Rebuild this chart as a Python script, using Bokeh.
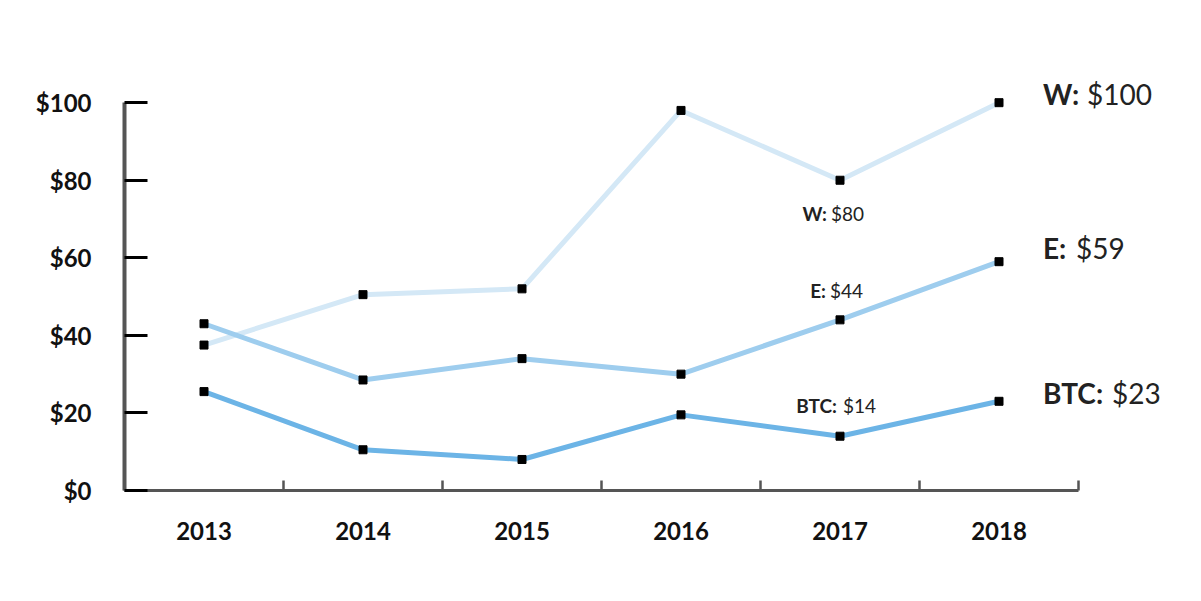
from bokeh.plotting import figure
from bokeh.models import Range1d, LinearAxis, FixedTicker, Label, PrintfTickFormatter
from bokeh.embed import file_html
from bokeh.resources import INLINE

years = ["2013", "2014", "2015", "2016", "2017", "2018"]
w_vals = [37.5, 50.5, 52, 98, 80, 100]
e_vals = [43, 28.5, 34, 30, 44, 59]
btc_vals = [25.5, 10.5, 8, 19.5, 14, 23]
series_names = ["W", "E", "BTC"]
y_ticks = [0, 20, 40, 60, 80, 100]

colors = ["#d4e8f6", "#9ecdee", "#6cb4e6"]
series = [w_vals, e_vals, btc_vals]

# category slot centres (each year occupies one unit slot)
xs = [i + 0.5 for i in range(len(years))]

p = figure(width=1185, height=585, x_range=Range1d(0, 6.61), y_range=Range1d(0, 115),
           output_backend="svg", toolbar_location=None, x_axis_location=None,
           min_border_left=124, min_border_right=10, min_border_top=44, min_border_bottom=95)
p.outline_line_color = None
p.grid.visible = False

xa = LinearAxis(ticker=FixedTicker(ticks=xs, minor_ticks=list(range(len(years) + 1))),
                major_label_overrides={x: y for x, y in zip(xs, years)})
xa.bounds = (0, len(years))
xa.axis_line_color = "#555555"
xa.axis_line_width = 3
xa.major_tick_in = 0
xa.major_tick_out = 0
xa.minor_tick_in = 10
xa.minor_tick_out = 0
xa.minor_tick_line_color = "#555555"
xa.minor_tick_line_width = 2.5
xa.major_label_text_font = "Lato"
xa.major_label_text_font_size = "24px"
xa.major_label_text_font_style = "bold"
xa.major_label_text_color = "#111111"
xa.major_label_standoff = 31
p.add_layout(xa, "below")

ya = p.yaxis[0]
ya.ticker = FixedTicker(ticks=y_ticks)
ya.bounds = (0, 100)
ya.formatter = PrintfTickFormatter(format="$%d")
ya.axis_line_color = "#555555"
ya.axis_line_width = 4
ya.major_tick_line_color = "black"
ya.major_tick_line_width = 3
ya.major_tick_in = 23
ya.major_tick_out = 0
ya.minor_tick_in = 0
ya.minor_tick_out = 0
ya.major_label_standoff = 33
ya.major_label_text_font = "Lato"
ya.major_label_text_font_size = "24px"
ya.major_label_text_font_style = "bold"
ya.major_label_text_color = "#111111"

for vals, c in zip(series, colors):
    p.line(xs, vals, line_color=c, line_width=5)
for vals in series:
    p.scatter(xs, vals, marker="square", size=8, fill_color="black", line_color="black")

# inline labels at 2017
i17 = years.index("2017")
inline_offsets = [(-13, -9, -33), (-14, -10, 29), (-3, 3, 31)]
for name, vals, (bx, rx, yo) in zip(series_names, series, inline_offsets):
    p.add_layout(Label(x=xs[i17], y=vals[i17], text=f"{name}:",
                       x_offset=bx, y_offset=yo, text_align="right", text_baseline="alphabetic",
                       text_font="Lato", text_font_style="bold", text_font_size="19px",
                       text_color="#222222"))
    p.add_layout(Label(x=xs[i17], y=vals[i17], text=f"${vals[i17]:.0f}",
                       x_offset=rx, y_offset=yo, text_align="left", text_baseline="alphabetic",
                       text_font="Lato", text_font_size="19px", text_color="#222222"))

# end labels at 2018
il = len(years) - 1
end_offsets = [(44, 88, 9), (44, 77, 14), (44, 113, 8)]
for name, vals, (bx, rx, yo) in zip(series_names, series, end_offsets):
    p.add_layout(Label(x=xs[il], y=vals[il], text=f"{name}:",
                       x_offset=bx, y_offset=yo, text_align="left", text_baseline="alphabetic",
                       text_font="Lato", text_font_style="bold", text_font_size="28px",
                       text_color="#222222"))
    p.add_layout(Label(x=xs[il], y=vals[il], text=f"${vals[il]:.0f}",
                       x_offset=rx, y_offset=yo, text_align="left", text_baseline="alphabetic",
                       text_font="Lato", text_font_size="28px", text_color="#222222"))

open("out.html", "w").write(file_html(p, INLINE))
